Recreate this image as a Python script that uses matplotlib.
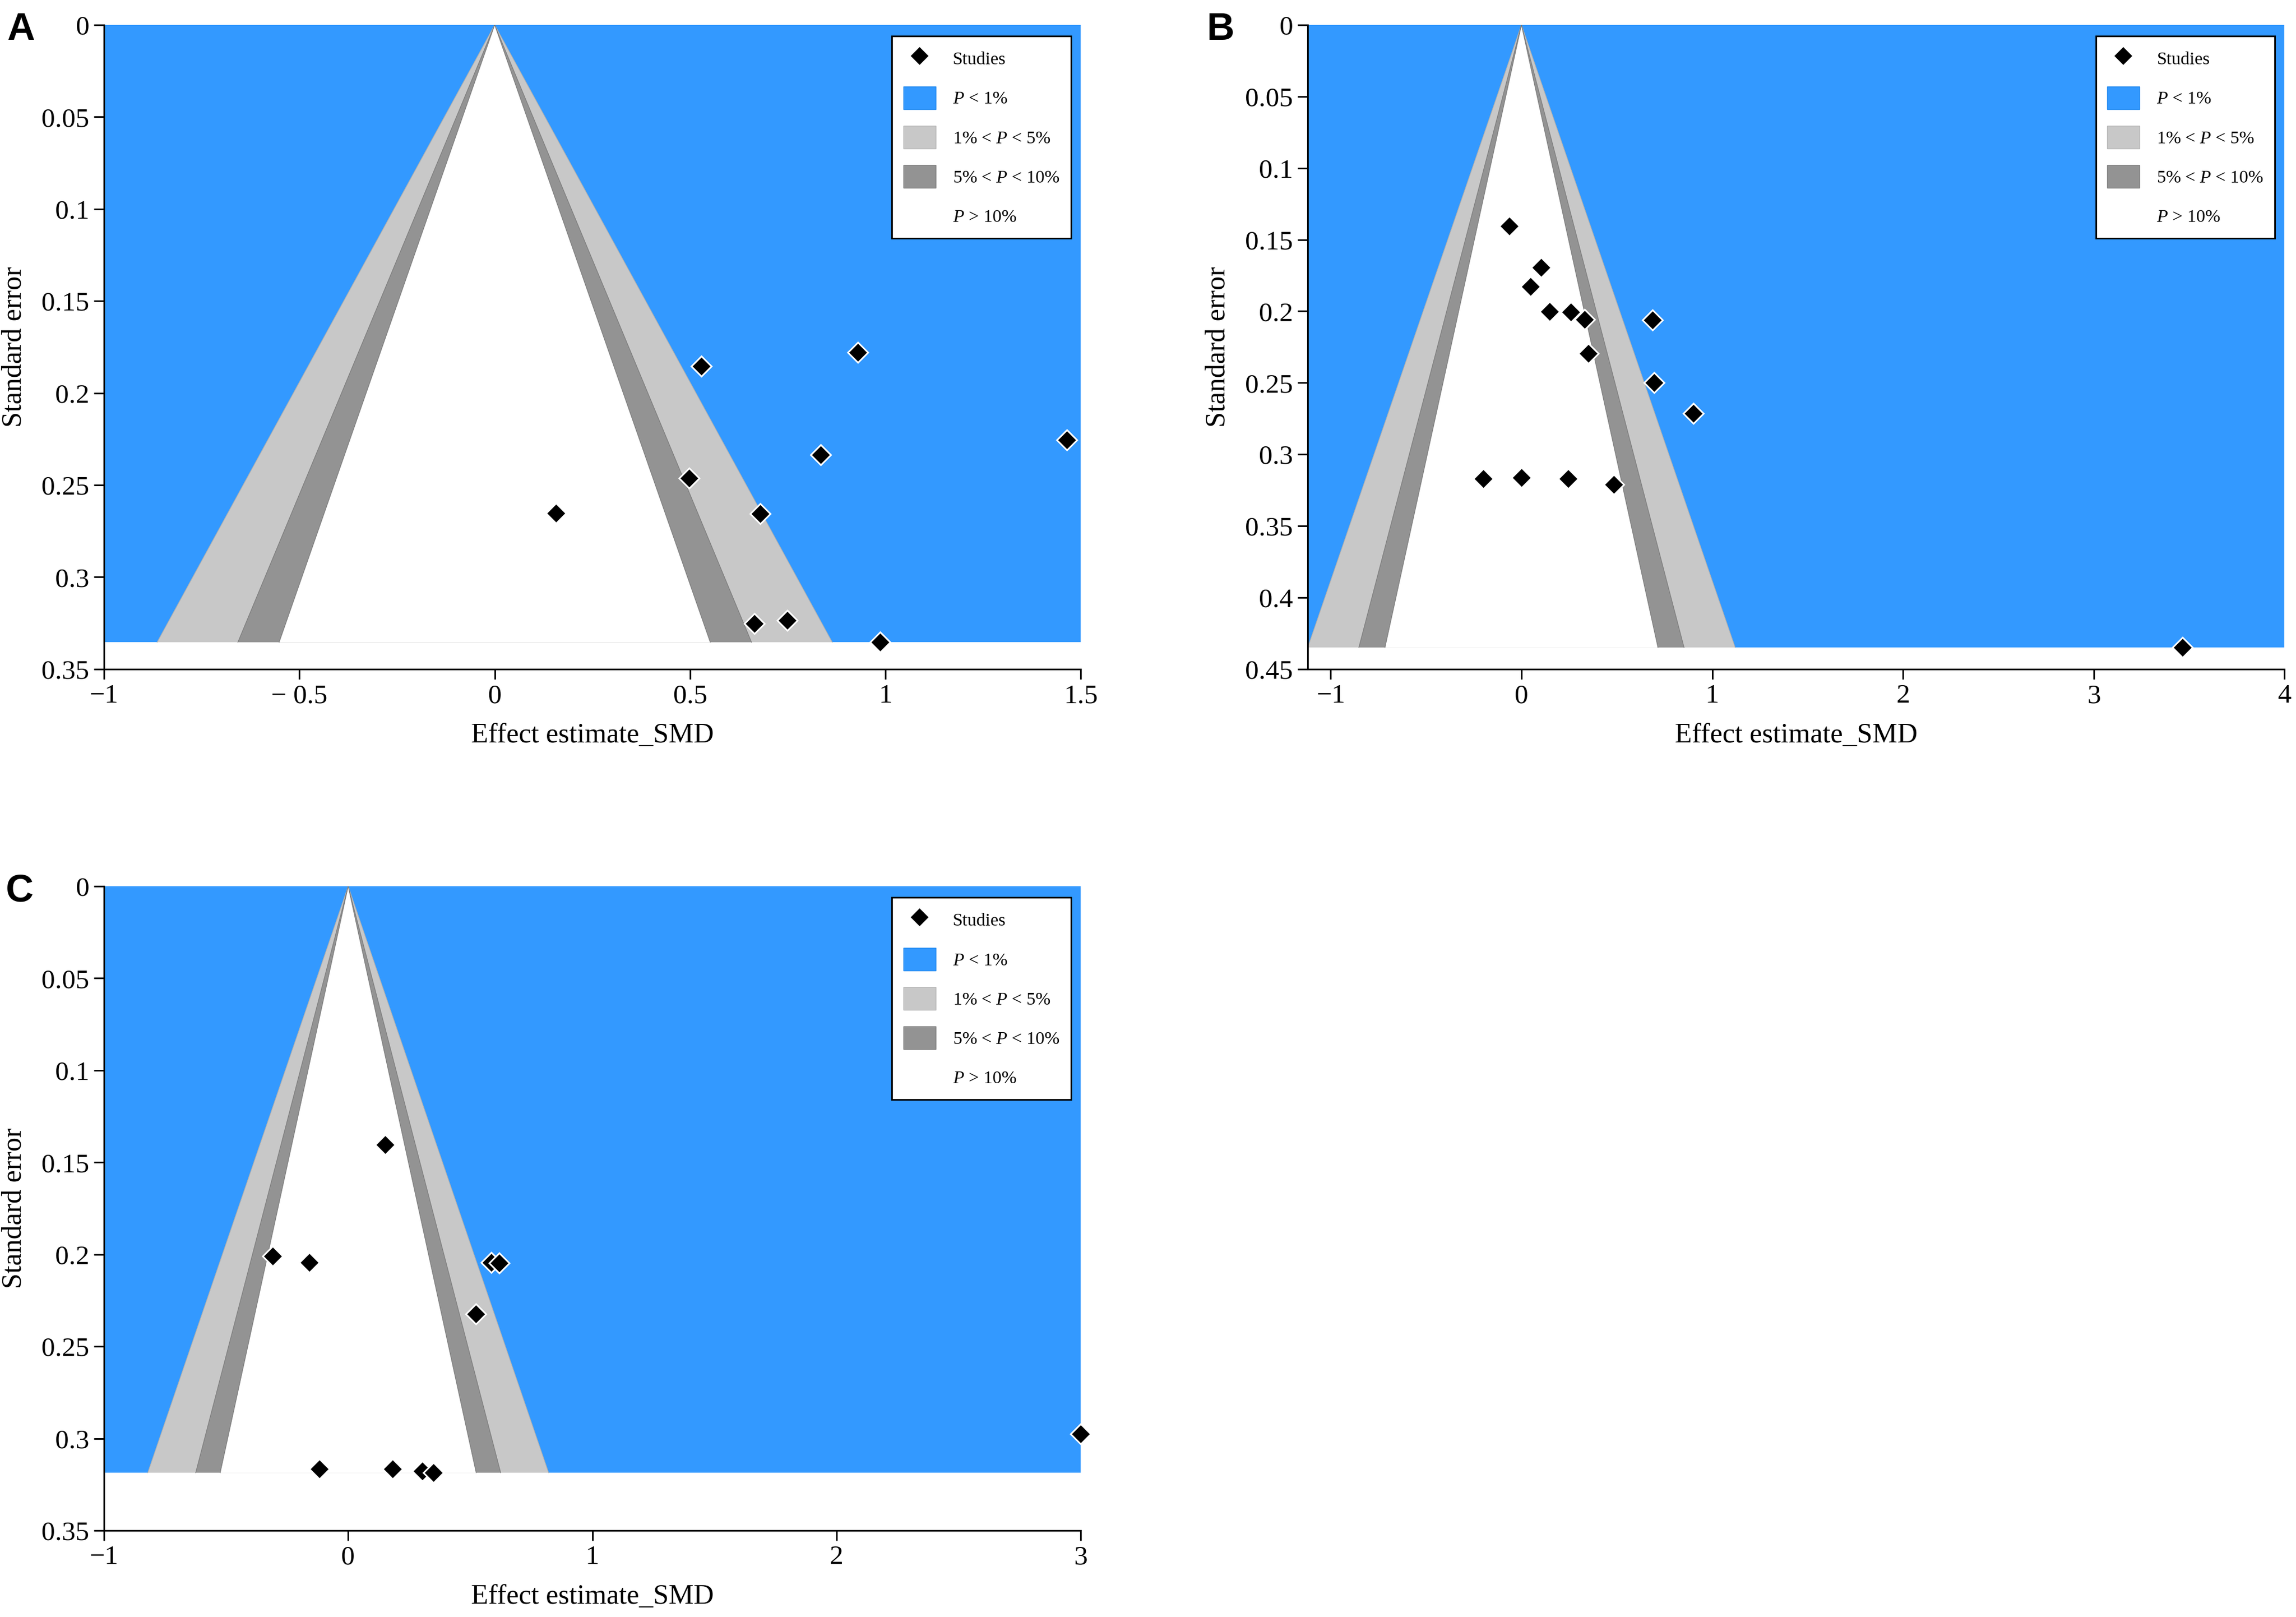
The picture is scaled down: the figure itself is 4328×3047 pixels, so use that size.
import matplotlib
matplotlib.use("Agg")
import matplotlib.pyplot as plt
import numpy as np
from matplotlib.patches import Polygon, Rectangle, Patch
from matplotlib.lines import Line2D

plt.rcParams['font.family'] = ['Liberation Serif', 'DejaVu Serif']
plt.rcParams['mathtext.fontset'] = 'custom'
plt.rcParams['mathtext.it'] = 'Liberation Serif:italic'
plt.rcParams['mathtext.rm'] = 'Liberation Serif'

# Panel A: study effects (SMD) and standard errors
smd_a = [0.529, 0.930, 1.465, 0.835, 0.498, 0.157, 0.680, 0.665, 0.749, 0.986]
se_a = [0.1855, 0.178, 0.2255, 0.2335, 0.2463, 0.2653, 0.2655, 0.3252, 0.3236, 0.3354]

# Panel B
smd_b = [-0.063, 0.103, 0.048, 0.148, 0.258, 0.332, 0.686, 0.351, 0.694, 0.900,
         -0.199, 0.000, 0.244, 0.483, 3.465]
se_b = [0.1405, 0.1693, 0.1827, 0.2001, 0.2005, 0.2056, 0.2060, 0.2296, 0.2498, 0.2714,
        0.3170, 0.3163, 0.3170, 0.3211, 0.4349]

# Panel C
smd_c = [0.152, -0.309, -0.160, 0.586, 0.618, 0.522, 3.0, -0.117, 0.181, 0.303, 0.350]
se_c = [0.1405, 0.2010, 0.2044, 0.2044, 0.2046, 0.2324, 0.2976, 0.3165, 0.3167, 0.3178, 0.3186]

# Axis ticks and labels
xticks_a = [-1, -0.5, 0, 0.5, 1, 1.5]
xlabels_a = ["\u22121", "\u2212 0.5", "0", "0.5", "1", "1.5"]
xticks_b = [-1, 0, 1, 2, 3, 4]
xlabels_b = ["\u22121", "0", "1", "2", "3", "4"]
xticks_c = [-1, 0, 1, 2, 3]
xlabels_c = ["\u22121", "0", "1", "2", "3"]
yticks_035 = [0, 0.05, 0.1, 0.15, 0.2, 0.25, 0.3, 0.35]
ylabels_035 = ["0", "0.05", "0.1", "0.15", "0.2", "0.25", "0.3", "0.35"]
yticks_045 = [0, 0.05, 0.1, 0.15, 0.2, 0.25, 0.3, 0.35, 0.4, 0.45]
ylabels_045 = ["0", "0.05", "0.1", "0.15", "0.2", "0.25", "0.3", "0.35", "0.4", "0.45"]

legend_labels = ["Studies", "$P$ < 1%", "1% < $P$ < 5%", "5% < $P$ < 10%", "$P$ > 10%"]

# Colours for significance contours
blue = "#3399FF"
light = "#C8C8C8"
dark = "#939393"

# z values for two-sided 1%, 5% and 10%
z99, z95, z90 = 2.576, 1.96, 1.645


def funnel(ax, smd, se, xlim, ylim, xticks, xlabels, yticks, ylabels):
    smax = max(se)
    # P < 1% background down to the largest SE
    ax.add_patch(Rectangle((xlim[0], 0), xlim[1] - xlim[0], smax, facecolor=blue,
                           edgecolor="none", zorder=1))
    # contour bands, slanted edges drawn a touch darker
    for z, col, ec, zo in [(z99, light, "#b0b0b0", 2), (z95, dark, "#7c7c7c", 3), (z90, "white", "#7c7c7c", 4)]:
        ax.add_patch(Polygon([(0, 0), (-z * smax, smax), (z * smax, smax)], closed=True,
                             facecolor=col, edgecolor="none", zorder=zo))
        ax.plot([-z * smax, 0, z * smax], [smax, 0, smax], color=ec, lw=0.9, zorder=zo)
    # studies
    ax.plot(smd, se, linestyle="", marker="D", markersize=19, markerfacecolor="black",
            markeredgecolor="white", markeredgewidth=2.2, zorder=6, clip_on=False)

    ax.set_xlim(xlim)
    ax.set_ylim(ylim[1], ylim[0])
    ax.set_xticks(xticks)
    ax.set_xticklabels(xlabels)
    ax.set_yticks(yticks)
    ax.set_yticklabels(ylabels)
    ax.tick_params(length=14, width=2.2, labelsize=37, pad=6)
    for s in ["top", "right"]:
        ax.spines[s].set_visible(False)
    for s in ["left", "bottom"]:
        ax.spines[s].set_linewidth(2.2)
        ax.spines[s].set_zorder(7)
    ax.set_xlabel("Effect estimate_SMD", fontsize=38)
    ax.set_ylabel("Standard error", fontsize=38)
    ax.xaxis.set_label_coords(0.5, -0.083)
    ax.yaxis.set_label_coords(-0.079, 0.5)

    handles = [Line2D([], [], linestyle="", marker="D", markersize=19, markerfacecolor="black",
                      markeredgecolor="white", markeredgewidth=2.2),
               Patch(facecolor=blue, edgecolor="#2088EE"),
               Patch(facecolor=light, edgecolor="#b4b4b4"),
               Patch(facecolor=dark, edgecolor="#7c7c7c"),
               Patch(facecolor="white", edgecolor="white")]
    leg = ax.legend(handles, legend_labels, loc="upper right", bbox_to_anchor=(0.990, 0.983),
                    fontsize=24.5, handlelength=1.8, handleheight=1.56, labelspacing=0.92,
                    handletextpad=0.95, borderpad=0.62, borderaxespad=0, fancybox=False,
                    framealpha=1, edgecolor="black")
    leg.get_frame().set_linewidth(2.2)
    leg.set_zorder(10)


fig = plt.figure(figsize=(43.28, 30.47), dpi=100)

ax_a = fig.add_axes([0.0453, 0.5862, 0.4254, 0.3984])
funnel(ax_a, smd_a, se_a, (-1, 1.5), (0, 0.35), xticks_a, xlabels_a, yticks_035, ylabels_035)

ax_b = fig.add_axes([0.5696, 0.5862, 0.4254, 0.3984])
funnel(ax_b, smd_b, se_b, (-1.12, 4), (0, 0.45), xticks_b, xlabels_b, yticks_045, ylabels_045)

ax_c = fig.add_axes([0.0453, 0.0535, 0.4254, 0.3984])
funnel(ax_c, smd_c, se_c, (-1, 3), (0, 0.35), xticks_c, xlabels_c, yticks_035, ylabels_035)

# Panel letters
for x, y, t in [(0.003, 0.9928, "A"), (0.5254, 0.9928, "B"), (0.0025, 0.4598, "C")]:
    fig.text(x, y, t, ha="left", va="top", fontsize=52, fontweight="bold",
             family=["Liberation Sans", "DejaVu Sans"])

fig.savefig("out.png", dpi=100, facecolor="white")
